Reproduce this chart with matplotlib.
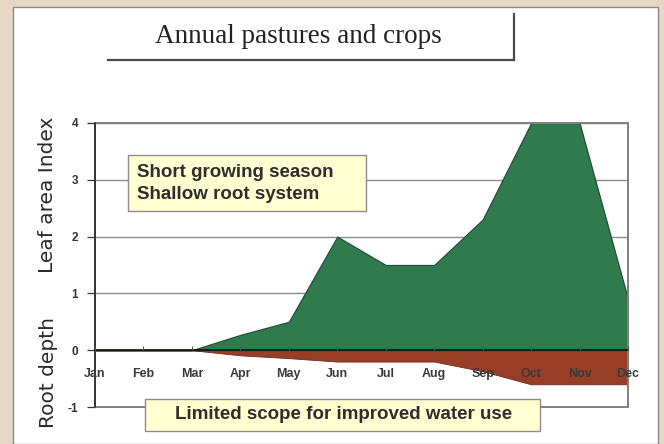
import matplotlib
matplotlib.use("Agg")
import matplotlib.pyplot as plt
from matplotlib.patches import Rectangle
from matplotlib.lines import Line2D

# Monthly values
months = ["Jan", "Feb", "Mar", "Apr", "May", "Jun", "Jul", "Aug", "Sep", "Oct", "Nov", "Dec"]
leaf_area_index = [0, 0, 0, 0.27, 0.5, 2.0, 1.5, 1.5, 2.3, 4.0, 4.0, 0.9]
root_depth = [0, 0, 0, -0.09, -0.14, -0.2, -0.2, -0.2, -0.37, -0.6, -0.6, -0.6]
y_ticks = [-1, 0, 1, 2, 3, 4]

W, H = 664, 444
fig = plt.figure(figsize=(W / 100, H / 100), dpi=100)
fig.patch.set_facecolor("#e6d8c4")


def fx(px):
    return px / W


def fy(py):
    return 1 - py / H


# white panel behind everything
fig.patches.append(Rectangle((fx(13), fy(444)), fx(658) - fx(13), fy(7) - fy(444),
                             transform=fig.transFigure, facecolor="white",
                             edgecolor="#8a8a8a", linewidth=1.0, zorder=-5))

# title box with shadowed bottom/right edges
fig.add_artist(Line2D([fx(108), fx(514)], [fy(60), fy(60)], transform=fig.transFigure,
                      color="#4a4a4a", linewidth=1.6))
fig.add_artist(Line2D([fx(514), fx(514)], [fy(14), fy(60)], transform=fig.transFigure,
                      color="#4a4a4a", linewidth=1.6))
fig.text(fx(298), fy(36), "Annual pastures and crops", family="Liberation Serif",
         fontsize=19.5, color="#222222", ha="center", va="center")

ax = fig.add_axes([fx(95), fy(407), fx(628) - fx(95), fy(123) - fy(407)])
ax.set_zorder(1)
ax.set_facecolor("white")
x = list(range(len(months)))

ax.fill_between(x, 0, leaf_area_index, facecolor="#2f7b4e", edgecolor="#24503a",
                linewidth=0.9, zorder=2)
ax.fill_between(x, root_depth, 0, facecolor="#983e27", edgecolor="#6e2a1a",
                linewidth=0.6, zorder=2)

ax.set_xlim(0, 11)
ax.set_ylim(-1, 4)
ax.set_yticks(y_ticks)
ax.set_yticklabels([str(v) for v in y_ticks])
ax.yaxis.grid(True, color="#8c8c8c", linewidth=1.0)
ax.set_axisbelow(True)

# grey frame around the plot area
ax.add_patch(Rectangle((0, 0), 1, 1, transform=ax.transAxes, fill=False,
                       edgecolor="#808080", linewidth=1.4, clip_on=False, zorder=2.5))

ax.spines["bottom"].set_position(("data", 0))
ax.spines["bottom"].set_color("#111111")
ax.spines["bottom"].set_linewidth(1.2)
ax.spines["bottom"].set_zorder(3)
ax.spines["left"].set_color("#222222")
ax.spines["left"].set_linewidth(1.1)
ax.spines["left"].set_zorder(3)
ax.spines["right"].set_visible(False)
ax.spines["top"].set_visible(False)

ax.set_xticks(x)
ax.set_xticklabels(months)
ax.tick_params(axis="x", direction="in", length=3, width=0.8, color="#555555",
               pad=13, labelsize=9, labelcolor="#3a3a3a")
ax.tick_params(axis="y", direction="out", length=6, width=0.9, color="#333333",
               pad=6, labelsize=8.5, labelcolor="#333333")
for lab in ax.get_xticklabels() + ax.get_yticklabels():
    lab.set_fontweight("bold")
    lab.set_family("Liberation Sans")
ax.xaxis.set_zorder(4)

# side labels
fig.text(fx(48), fy(195), "Leaf area Index", rotation=90, family="DejaVu Sans",
         fontsize=14.5, color="#2a2a2a", ha="center", va="center")
fig.text(fx(48), fy(373), "Root depth", rotation=90, family="DejaVu Sans",
         fontsize=14.5, color="#2a2a2a", ha="center", va="center")

# annotation boxes
box_kw = dict(transform=fig.transFigure, facecolor="#ffffd2", edgecolor="#8c8c8c",
              linewidth=1.0, zorder=5)
fig.add_artist(Rectangle((fx(128), fy(211)), fx(366) - fx(128), fy(155) - fy(211), **box_kw))
fig.text(fx(137), fy(172), "Short growing season", family="Liberation Sans",
         fontweight="bold", fontsize=13.5, color="#2e2e2e", ha="left", va="center", zorder=6)
fig.text(fx(137), fy(194), "Shallow root system", family="Liberation Sans",
         fontweight="bold", fontsize=13.5, color="#2e2e2e", ha="left", va="center", zorder=6)

fig.add_artist(Rectangle((fx(145), fy(431)), fx(540) - fx(145), fy(399) - fy(431), **box_kw))
fig.text(fx(344), fy(414), "Limited scope for improved water use", family="Liberation Sans",
         fontweight="bold", fontsize=13.5, color="#2e2e2e", ha="center", va="center", zorder=6)

fig.savefig("out.png", dpi=100)
